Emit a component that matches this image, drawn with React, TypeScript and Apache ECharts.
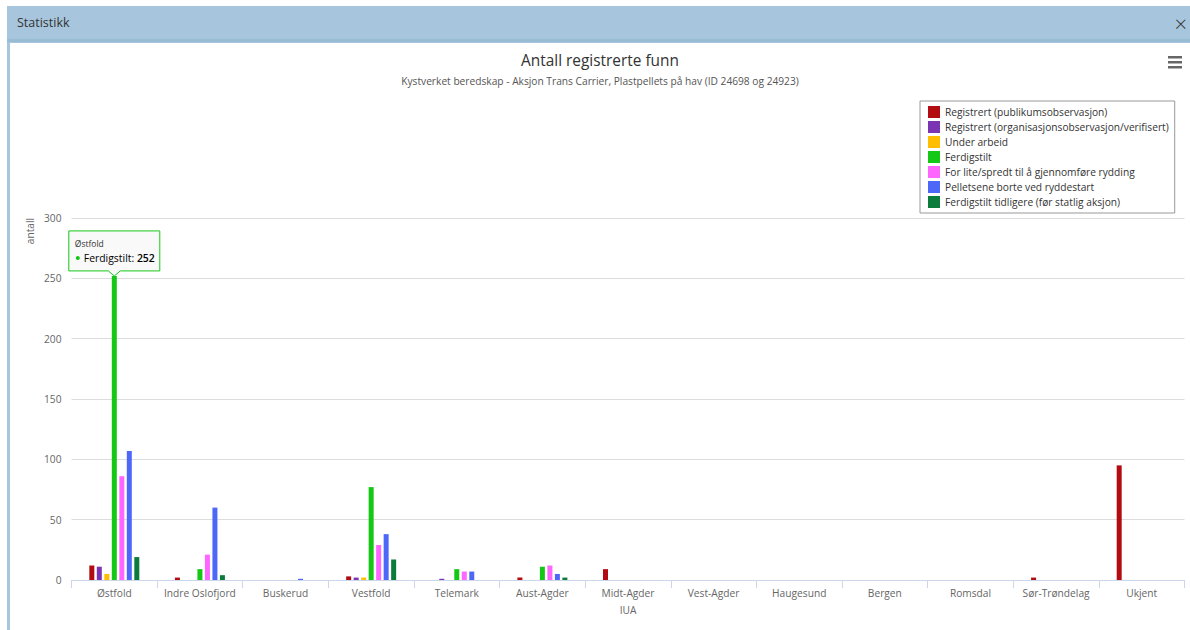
import React, { useEffect, useRef } from "react";
import * as echarts from "echarts";

const categories = ["Østfold", "Indre Oslofjord", "Buskerud", "Vestfold", "Telemark", "Aust-Agder", "Midt-Agder", "Vest-Agder", "Haugesund", "Bergen", "Romsdal", "Sør-Trøndelag", "Ukjent"];
const seriesNames = [
  "Registrert (publikumsobservasjon)",
  "Registrert (organisasjonsobservasjon/verifisert)",
  "Under arbeid",
  "Ferdigstilt",
  "For lite/spredt til å gjennomføre rydding",
  "Pelletsene borte ved ryddestart",
  "Ferdigstilt tidligere (før statlig aksjon)",
];
const seriesColors = ["#b20c12", "#7b35b3", "#ffbf00", "#16c816", "#ff66ff", "#4d68f9", "#0b7c3b"];
const registrertPublikum = [12, 2, 0, 3, 0, 2, 9, 0, 0, 0, 0, 2, 95];
const registrertOrg = [11, 0, 0, 2, 1, 0, 0, 0, 0, 0, 0, 0, 0];
const underArbeid = [5, 0, 0, 2, 0, 0, 0, 0, 0, 0, 0, 0, 0];
const ferdigstilt = [252, 9, 0, 77, 9, 11, 0, 0, 0, 0, 0, 0, 0];
const forLite = [86, 21, 0, 29, 7, 12, 0, 0, 0, 0, 0, 0, 0];
const pelletsBorte = [107, 60, 1, 38, 7, 5, 0, 0, 0, 0, 0, 0, 0];
const ferdigTidligere = [19, 4, 0, 17, 0, 2, 0, 0, 0, 0, 0, 0, 0];
const yTicks = { min: 0, max: 300, interval: 50 };

const allSeries = [registrertPublikum, registrertOrg, underArbeid, ferdigstilt, forLite, pelletsBorte, ferdigTidligere];
const tipSeries = 3;
const tipCategory = 0;

const FONT = "'Open Sans', 'Noto Sans', sans-serif";
const SMALL = 10.2;

export default function App() {
  const ref = useRef<HTMLDivElement>(null);
  useEffect(() => {
    const chart = echarts.init(ref.current!, null, { renderer: "svg" });
    const option: any = {
      animation: false,
      textStyle: { fontFamily: FONT },
      title: {
        text: "Antall registrerte funn",
        subtext: "Kystverket beredskap - Aksjon Trans Carrier, Plastpellets på hav (ID 24698 og 24923)",
        left: "center",
        top: 5,
        itemGap: 8,
        textStyle: { fontFamily: FONT, fontSize: 15.4, fontWeight: "normal", color: "#333" },
        subtextStyle: { fontFamily: FONT, fontSize: SMALL, color: "#555" },
      },
      legend: {
        orient: "vertical",
        left: 910,
        top: 58,
        padding: [5, 6, 5, 8],
        itemGap: 3,
        itemWidth: 12,
        itemHeight: 12,
        icon: "rect",
        borderColor: "#999",
        borderWidth: 1,
        textStyle: { fontFamily: FONT, fontSize: SMALL, color: "#333", lineHeight: 12 },
        data: seriesNames,
      },
      grid: { left: 61.5, right: 5.5, top: 175, bottom: 50, containLabel: false },
      xAxis: {
        type: "category",
        data: categories,
        name: "IUA",
        nameLocation: "middle",
        nameGap: 25,
        nameTextStyle: { fontFamily: FONT, fontSize: SMALL, color: "#666" },
        axisLine: { lineStyle: { color: "#ccd6eb" } },
        axisTick: { show: true, interval: 0, alignWithLabel: false, length: 8, lineStyle: { color: "#ccd6eb" } },
        axisLabel: { interval: 0, fontFamily: FONT, fontSize: SMALL, color: "#666", margin: 8 },
      },
      yAxis: {
        type: "value",
        min: yTicks.min,
        max: yTicks.max,
        interval: yTicks.interval,
        axisLine: { show: false },
        axisTick: { show: false },
        axisLabel: { fontFamily: FONT, fontSize: SMALL, color: "#666", margin: 10 },
        splitLine: { lineStyle: { color: "#dcdcdc" } },
      },
      series: allSeries.map((d, i) => ({
        type: "bar",
        name: seriesNames[i],
        data: d,
        barWidth: 5,
        barGap: "50%",
        itemStyle: { color: seriesColors[i] },
      })),
    };
    chart.setOption(option);

    const [ax, ay] = chart.convertToPixel({ seriesIndex: tipSeries }, [categories[tipCategory], allSeries[tipSeries][tipCategory]]) as number[];
    const w = 91, h = 40, ph = 5;
    const L = ax - w / 2, T = ay - h - ph, R = L + w, B = T + h;
    chart.setOption({
      graphic: [
        ...[0, 5, 10].map((dy) => ({ type: "rect", shape: { x: 1158, y: 13 + dy, width: 14, height: 2.5 }, style: { fill: "#666" } })),
        {
          type: "text",
          x: 20,
          y: 188,
          rotation: Math.PI / 2,
          style: { text: "antall", fontFamily: FONT, fontSize: SMALL, fill: "#666", align: "center", verticalAlign: "middle" },
        },
        {
          type: "polygon",
          shape: { points: [[L, T], [R, T], [R, B], [ax + 6, B], [ax, ay], [ax - 6, B], [L, B]] },
          style: { fill: "rgba(248,248,248,0.92)", stroke: seriesColors[tipSeries], lineWidth: 1 },
          z: 100,
        },
        {
          type: "text",
          x: L + 6,
          y: T + 13,
          z: 101,
          style: { text: categories[tipCategory], fontFamily: FONT, fontSize: 8.5, fill: "#333", verticalAlign: "middle" },
        },
        {
          type: "circle",
          shape: { cx: L + 9, cy: T + 27, r: 2 },
          style: { fill: seriesColors[tipSeries] },
          z: 101,
        },
        {
          type: "text",
          x: L + 15,
          y: T + 27,
          z: 101,
          style: {
            text: "{a|" + seriesNames[tipSeries] + ": }{b|" + allSeries[tipSeries][tipCategory] + "}",
            verticalAlign: "middle",
            rich: {
              a: { fontFamily: FONT, fontSize: 10.4, color: "#333" },
              b: { fontFamily: FONT, fontSize: 10.4, fontWeight: 600, color: "#333" },
            },
          },
        },
      ],
    });
    return () => chart.dispose();
  }, []);

  return (
    <div style={{ position: "fixed", left: 0, top: 0, width: 1190, height: 630, background: "#fff", overflow: "hidden", fontFamily: FONT }}>
      <div style={{ position: "absolute", left: 7, top: 6, right: 0, bottom: 0, background: "#a7c6dd" }}>
        <div style={{ position: "absolute", left: 0, top: 0, right: 0, height: 33, background: "#a7c6dd", borderBottom: "3px solid #99bcd5" }}>
          <div style={{ position: "absolute", left: 10, top: 8, fontSize: 12.5, color: "#333" }}>Statistikk</div>
          <div style={{ position: "absolute", right: 3, top: 2, fontSize: 22, color: "#333", fontWeight: 300 }}>×</div>
        </div>
      </div>
      <div ref={ref} style={{ position: "absolute", left: 10, top: 43, width: 1180, height: 587, background: "#fff" }} />
    </div>
  );
}
